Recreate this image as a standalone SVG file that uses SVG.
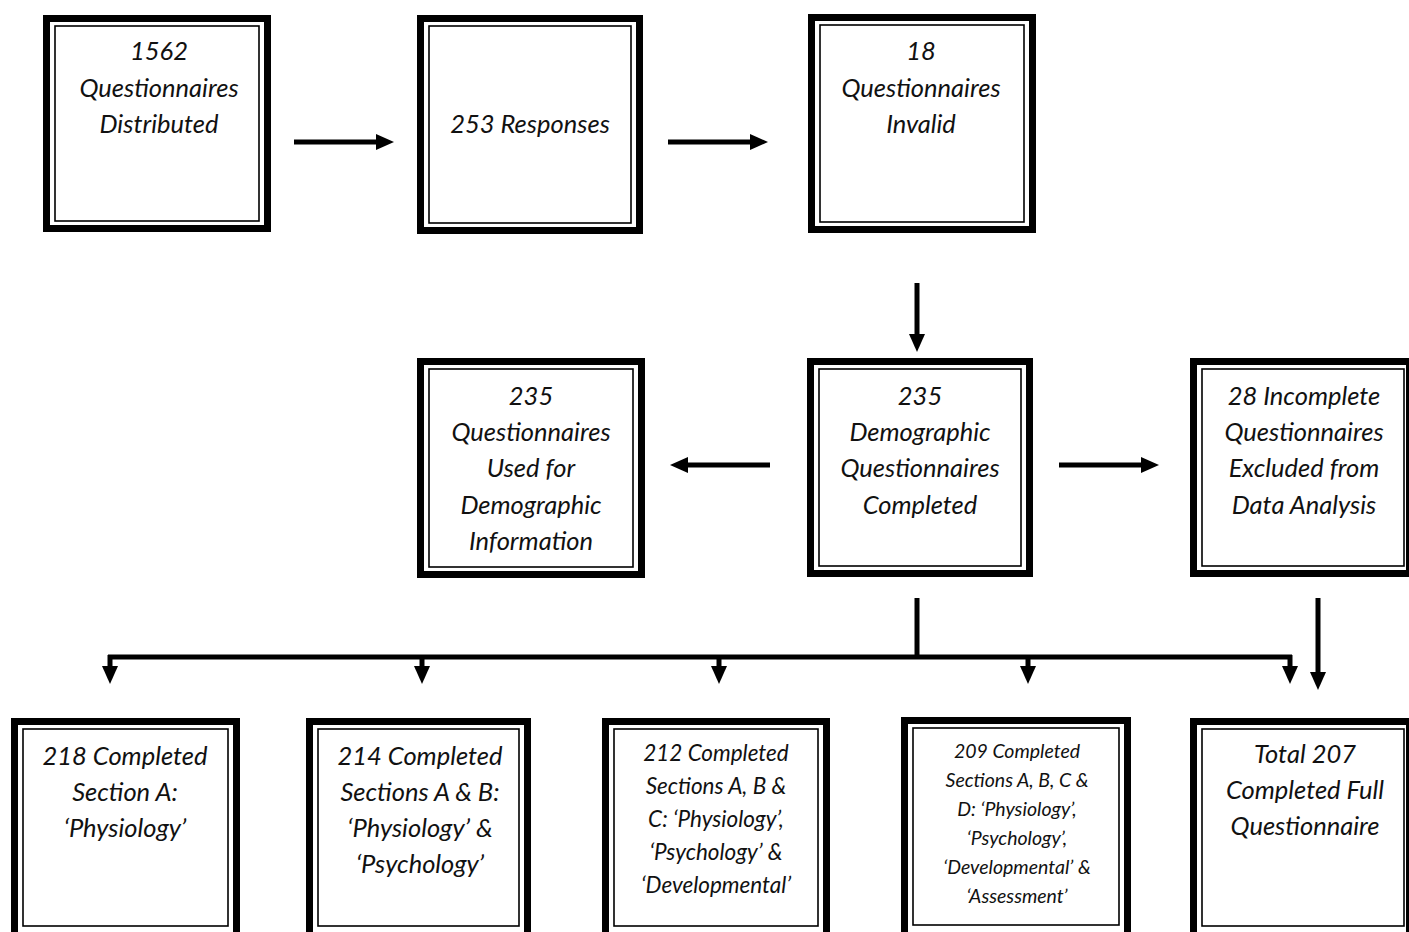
<svg xmlns="http://www.w3.org/2000/svg" width="1409" height="932" viewBox="0 0 1409 932">
<style>
.o{fill:#fff;stroke:#000;stroke-width:7}
.i{fill:none;stroke:#000;stroke-width:1.6}
.t{font-family:Lato,"Liberation Sans",sans-serif;font-style:italic;font-size:25.5px;fill:#111;text-anchor:middle}
.s{font-size:22.5px}
.xs{font-size:19.5px}
.c{fill:none;stroke:#000;stroke-width:5}
</style>
<defs>
<marker id="ah" markerUnits="userSpaceOnUse" markerWidth="18" markerHeight="16" refX="2" refY="8" orient="auto" viewBox="0 0 18 16">
<path d="M0,0 L18,8 L0,16 Z" fill="#000"/>
</marker>
</defs>
<g id="connectors">
<line class="c" x1="294" y1="142" x2="378" y2="142" marker-end="url(#ah)"/>
<line class="c" x1="668" y1="142" x2="752" y2="142" marker-end="url(#ah)"/>
<line class="c" x1="917" y1="283" x2="917" y2="336" marker-end="url(#ah)"/>
<line class="c" x1="770" y1="465" x2="686" y2="465" marker-end="url(#ah)"/>
<line class="c" x1="1059" y1="465" x2="1143" y2="465" marker-end="url(#ah)"/>
<line class="c" x1="917" y1="598" x2="917" y2="657"/>
<line class="c" x1="108" y1="657" x2="1292" y2="657"/>
<line class="c" x1="110" y1="655" x2="110" y2="668" marker-end="url(#ah)"/>
<line class="c" x1="422" y1="655" x2="422" y2="668" marker-end="url(#ah)"/>
<line class="c" x1="719" y1="655" x2="719" y2="668" marker-end="url(#ah)"/>
<line class="c" x1="1028" y1="655" x2="1028" y2="668" marker-end="url(#ah)"/>
<line class="c" x1="1290" y1="655" x2="1290" y2="668" marker-end="url(#ah)"/>
<line class="c" x1="1318" y1="598" x2="1318" y2="674" marker-end="url(#ah)"/>
</g>
<g id="n1">
<rect class="o" x="46.5" y="18.5" width="221" height="210"/>
<rect class="i" x="55" y="26" width="204" height="195"/>
<text class="t" x="159"><tspan x="159" y="60">1562</tspan><tspan x="159" y="97">Questionnaires</tspan><tspan x="159" y="133">Distributed</tspan></text>
</g>
<g id="n2">
<rect class="o" x="420.5" y="18.5" width="219" height="212"/>
<rect class="i" x="429" y="26" width="202" height="197"/>
<text class="t" x="530" y="133">253 Responses</text>
</g>
<g id="n3">
<rect class="o" x="811.5" y="17.5" width="221" height="212"/>
<rect class="i" x="820" y="25" width="204" height="197"/>
<text class="t"><tspan x="921" y="60">18</tspan><tspan x="921" y="97">Questionnaires</tspan><tspan x="921" y="133">Invalid</tspan></text>
</g>
<g id="n4">
<rect class="o" x="420.5" y="361.5" width="221" height="213"/>
<rect class="i" x="429" y="369" width="204" height="198"/>
<text class="t"><tspan x="531" y="405">235</tspan><tspan x="531" y="441">Questionnaires</tspan><tspan x="531" y="477">Used for</tspan><tspan x="531" y="514">Demographic</tspan><tspan x="531" y="550">Information</tspan></text>
</g>
<g id="n5">
<rect class="o" x="810.5" y="361.5" width="219" height="212"/>
<rect class="i" x="819" y="369" width="202" height="197"/>
<text class="t"><tspan x="920" y="405">235</tspan><tspan x="920" y="441">Demographic</tspan><tspan x="920" y="477">Questionnaires</tspan><tspan x="920" y="514">Completed</tspan></text>
</g>
<g id="n6">
<rect class="o" x="1193.5" y="361.5" width="216" height="212"/>
<rect class="i" x="1202" y="369" width="202" height="197"/>
<text class="t"><tspan x="1304" y="405">28 Incomplete</tspan><tspan x="1304" y="441">Questionnaires</tspan><tspan x="1304" y="477">Excluded from</tspan><tspan x="1304" y="514">Data Analysis</tspan></text>
</g>
<g id="n7">
<rect class="o" x="14.5" y="721.5" width="222" height="220"/>
<rect class="i" x="23" y="729" width="205" height="197"/>
<text class="t"><tspan x="125" y="765">218 Completed</tspan><tspan x="125" y="801">Section A:</tspan><tspan x="125" y="837">‘Physiology’</tspan></text>
</g>
<g id="n8">
<rect class="o" x="309.5" y="721.5" width="218" height="220"/>
<rect class="i" x="318" y="729" width="201" height="197"/>
<text class="t"><tspan x="420" y="765">214 Completed</tspan><tspan x="420" y="801">Sections A &amp; B:</tspan><tspan x="420" y="837">‘Physiology’ &amp;</tspan><tspan x="420" y="873">‘Psychology’</tspan></text>
</g>
<g id="n9">
<rect class="o" x="605.5" y="721.5" width="221" height="220"/>
<rect class="i" x="614" y="729" width="204" height="197"/>
<text class="t s"><tspan x="716" y="761">212 Completed</tspan><tspan x="716" y="794">Sections A, B &amp;</tspan><tspan x="716" y="827">C: ‘Physiology’,</tspan><tspan x="716" y="860">‘Psychology’ &amp;</tspan><tspan x="716" y="893">‘Developmental’</tspan></text>
</g>
<g id="n10">
<rect class="o" x="904.5" y="720.5" width="223" height="220"/>
<rect class="i" x="913" y="728" width="206" height="197"/>
<text class="t xs"><tspan x="1017" y="758">209 Completed</tspan><tspan x="1017" y="787">Sections A, B, C &amp;</tspan><tspan x="1017" y="816">D: ‘Physiology’,</tspan><tspan x="1017" y="845">‘Psychology’,</tspan><tspan x="1017" y="874">‘Developmental’ &amp;</tspan><tspan x="1017" y="903">‘Assessment’</tspan></text>
</g>
<g id="n11">
<rect class="o" x="1193.5" y="721.5" width="216" height="220"/>
<rect class="i" x="1202" y="729" width="202" height="197"/>
<text class="t"><tspan x="1305" y="763">Total 207</tspan><tspan x="1305" y="799">Completed Full</tspan><tspan x="1305" y="835">Questionnaire</tspan></text>
</g>
</svg>
